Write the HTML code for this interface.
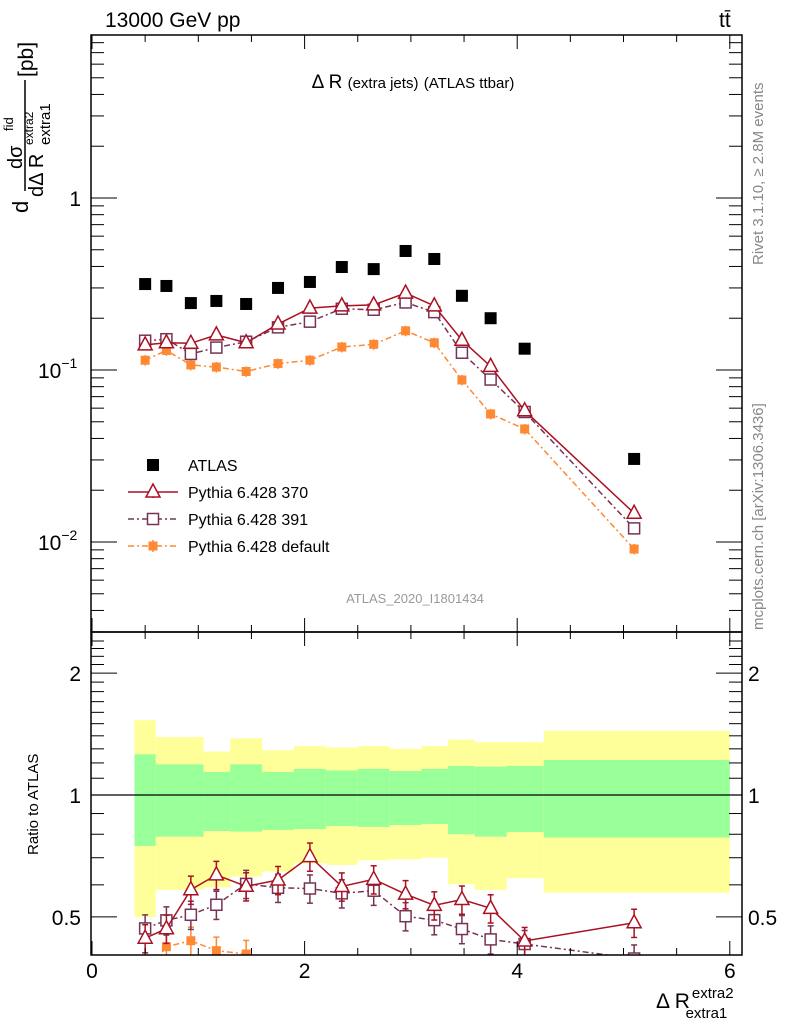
<!DOCTYPE html>
<html><head><meta charset="utf-8"><style>
body{margin:0;background:#fff;}
svg{font-family:"Liberation Sans",sans-serif;}
</style></head><body>
<svg id="c" width="786" height="1024" xmlns="http://www.w3.org/2000/svg">
<g id="bands"></g>
<g id="marks"></g>
<g id="axes" stroke="#000" fill="none"></g>
<text x="105" y="27" font-size="21">13000 GeV pp</text>
<text x="719" y="27" font-size="21">tt̄</text>
<text x="413" y="88" font-size="19" text-anchor="middle">Δ R <tspan font-size="15">(extra jets)</tspan> <tspan font-size="15">(ATLAS ttbar)</tspan></text>
<text x="415" y="603" font-size="13" fill="#999" text-anchor="middle">ATLAS_2020_I1801434</text>
<text transform="translate(763,265) rotate(-90)" font-size="15" fill="#888">Rivet 3.1.10, ≥ 2.8M events</text>
<text transform="translate(763,630) rotate(-90)" font-size="15" fill="#888">mcplots.cern.ch [arXiv:1306.3436]</text>
<g transform="translate(0,215) rotate(-90)">
<text x="2" y="28" font-size="22">d</text>
<text x="46" y="22" font-size="20">dσ</text>
<text x="84" y="13" font-size="13">fid</text>
<line x1="24" y1="25" x2="135" y2="25" stroke="#000" stroke-width="1.5"/>
<text x="18" y="43" font-size="20">dΔ R</text>
<text x="70" y="50" font-size="15">extra1</text>
<text x="70" y="33" font-size="12">extra2</text>
<text x="138" y="33" font-size="21">[pb]</text>
</g>
<text transform="translate(38,855) rotate(-90)" font-size="15">Ratio to ATLAS</text>
<text x="656" y="1008" font-size="21">Δ R<tspan font-size="15" dx="2" dy="-10">extra2</tspan><tspan font-size="15" dx="-48" dy="20">extra1</tspan></text>
<g id="legend"></g>
</svg>
<script>
const xEdges=[0.4,0.6,0.8,1.05,1.3,1.6,1.9,2.2,2.5,2.8,3.1,3.35,3.6,3.9,4.25,6.0];
const xCenters=[0.5,0.7,0.93,1.17,1.45,1.75,2.05,2.35,2.65,2.95,3.22,3.48,3.75,4.07,5.1];
const atlas=[0.316,0.308,0.245,0.252,0.242,0.30,0.325,0.397,0.386,0.492,0.442,0.27,0.20,0.133,0.0304];
const py370=[0.14,0.144,0.143,0.16,0.144,0.185,0.229,0.236,0.239,0.28,0.236,0.149,0.105,0.058,0.0147];
const py391=[0.148,0.151,0.124,0.135,0.146,0.177,0.191,0.227,0.224,0.247,0.217,0.126,0.088,0.057,0.012];
const pyDef=[0.114,0.13,0.107,0.104,0.098,0.109,0.114,0.136,0.141,0.169,0.144,0.0875,0.0555,0.0454,0.0091];
const yelHi=[1.53,1.39,1.39,1.28,1.38,1.29,1.32,1.31,1.32,1.30,1.32,1.37,1.35,1.35,1.44];
const grnHi=[1.26,1.19,1.19,1.14,1.19,1.14,1.16,1.15,1.16,1.146,1.16,1.18,1.175,1.18,1.22];
const grnLo=[0.748,0.789,0.789,0.815,0.812,0.82,0.824,0.838,0.834,0.843,0.848,0.80,0.789,0.81,0.785];
const yelLo=[0.50,0.583,0.583,0.592,0.629,0.647,0.678,0.672,0.69,0.694,0.70,0.602,0.583,0.623,0.574];
const xTicks=[0,2,4,6];
const NS="http://www.w3.org/2000/svg";
const L=91,R=742,T=35,MB=632,RB=955;
const X=v=>92+v*106.3;
const Y=v=>198-172*Math.log10(v);
const YR=v=>795-405*Math.log10(v);
function mk(tag,at,parent){const e=document.createElementNS(NS,tag);for(const k in at)e.setAttribute(k,at[k]);parent.appendChild(e);return e;}
const bands=document.getElementById('bands'),marks=document.getElementById('marks'),axes=document.getElementById('axes'),leg=document.getElementById('legend');
for(let i=0;i<yelHi.length;i++){
 const x0=X(xEdges[i]),x1=X(xEdges[i+1]);
 let r=mk('rect',{x:x0,y:YR(yelHi[i]),width:x1-x0,height:YR(yelLo[i])-YR(yelHi[i]),fill:'#ffff99'},bands);
 
 
 r=mk('rect',{x:x0,y:YR(grnHi[i]),width:x1-x0,height:YR(grnLo[i])-YR(grnHi[i]),fill:'#99ff99'},bands);
 
 
}
let ln=mk('line',{x1:L,y1:YR(1),x2:R,y2:YR(1),stroke:'#000','stroke-width':1.2},bands);


const defs=mk('defs',{},document.getElementById('c'));
const cp=mk('clipPath',{id:'rc'},defs);mk('rect',{x:L,y:MB,width:R-L,height:RB-MB},cp);
const cpm=mk('clipPath',{id:'mc'},defs);mk('rect',{x:L,y:T,width:R-L,height:MB-T},cpm);
const gm=mk('g',{'clip-path':'url(#mc)'},marks),gr=mk('g',{'clip-path':'url(#rc)'},marks);
function marker(type,cx,cy,col,g){
 let e;
 if(type==='tri') e=mk('polygon',{points:`${cx},${cy-8} ${cx-7},${cy+5} ${cx+7},${cy+5}`,fill:'#fff',stroke:col,'stroke-width':1.5},g);
 else if(type==='sq') e=mk('rect',{x:cx-5.5,y:cy-5.5,width:11,height:11,fill:'#fff',stroke:col,'stroke-width':1.5},g);
 else if(type==='fsq') e=mk('rect',{x:cx-4.5,y:cy-4.5,width:9,height:9,fill:col},g);
 else e=mk('rect',{x:cx-6,y:cy-6,width:12,height:12,fill:col},g);
 return e;
}
const series=[
 {d:pyDef,col:'#ff8833',m:'fsq',dash:'6,3,2,3',name:'Pythia 6.428 default',err:0.07},
 {d:py391,col:'#773355',m:'sq',dash:'6,3,2,3',name:'Pythia 6.428 391',err:0.05},
 {d:py370,col:'#aa1122',m:'tri',dash:'',name:'Pythia 6.428 370',err:0.05}
];
series.forEach(s=>{
 const pts=s.d.map((v,i)=>X(xCenters[i])+','+Y(v)).join(' ');
 let pl=mk('polyline',{points:pts,fill:'none',stroke:s.col,'stroke-width':1.5,'stroke-dasharray':s.dash},gm);
 
 
 const rp=s.d.map((v,i)=>X(xCenters[i])+','+YR(v/atlas[i])).join(' ');
 pl=mk('polyline',{points:rp,fill:'none',stroke:s.col,'stroke-width':1.5,'stroke-dasharray':s.dash},gr);
 
 
 s.d.forEach((v,i)=>{
  const cx=X(xCenters[i]);
  mk('line',{x1:cx,x2:cx,y1:Y(v*(1+s.err)),y2:Y(v*(1-s.err)),stroke:s.col,'stroke-width':1.5},gm);
  let p=marker(s.m,cx,Y(v),s.col,gm);
  
  
  const r=v/atlas[i],e=0.08;
  mk('line',{x1:cx,x2:cx,y1:YR(r*(1+e)),y2:YR(r*(1-e)),stroke:s.col,'stroke-width':1.5},gr);
  mk('line',{x1:cx-3,x2:cx+3,y1:YR(r*(1+e)),y2:YR(r*(1+e)),stroke:s.col,'stroke-width':1.5},gr);
  mk('line',{x1:cx-3,x2:cx+3,y1:YR(r*(1-e)),y2:YR(r*(1-e)),stroke:s.col,'stroke-width':1.5},gr);
  p=marker(s.m,cx,YR(r),s.col,gr);
  
  
 });
});
atlas.forEach((v,i)=>{
 const p=marker('bsq',X(xCenters[i]),Y(v),'#000',gm);
 
 
});
mk('rect',{x:L,y:T,width:R-L,height:MB-T,'stroke-width':1.5},axes);
mk('rect',{x:L,y:MB,width:R-L,height:RB-MB,'stroke-width':1.5},axes);
const tg=mk('g',{fill:'#000',stroke:'none','font-size':'21'},document.getElementById('c'));
for(let v=0;v<=6.01;v+=0.5){
 const x=X(v),maj=Math.abs(v-Math.round(v/2)*2)<0.01,len=maj?14:7;
 [[T,1],[MB,-1],[MB,1],[RB,-1]].forEach(([y,d])=>mk('line',{x1:x,x2:x,y1:y,y2:y+d*len},axes));
}
xTicks.forEach(v=>{const t=mk('text',{x:X(v),y:978,'text-anchor':'middle'},tg);t.textContent=v;
 
 });
for(let d=-3;d<=0;d++)for(let m=1;m<10;m++){const v=m*Math.pow(10,d),y=Y(v);if(y<T||y>MB)continue;
 const len=m===1?26:13;mk('line',{x1:L,x2:L+len,y1:y,y2:y},axes);mk('line',{x1:R,x2:R-len,y1:y,y2:y},axes);}
[[1,'1',''],[0.1,'10','−1'],[0.01,'10','−2']].forEach(([v,b,e])=>{
 const t=mk('text',{x:81,y:Y(v)+8,'text-anchor':'end'},tg);t.textContent=b;
 if(e){const s=mk('tspan',{'font-size':'14',dy:'-10'},t);s.textContent=e;t.setAttribute('x',38);t.setAttribute('text-anchor','start');}
 
 
});
for(let v=0.4;v<=2.5;v+=0.1){const y=YR(v);if(y<MB||y>RB)continue;
 const maj=[0.5,1,2].some(k=>Math.abs(k-v)<0.01),len=maj?26:13;
 mk('line',{x1:L,x2:L+len,y1:y,y2:y},axes);mk('line',{x1:R,x2:R-len,y1:y,y2:y},axes);}
[[2,'2'],[1,'1'],[0.5,'0.5']].forEach(([v,s])=>{
 let t=mk('text',{x:81,y:YR(v)+8,'text-anchor':'end'},tg);t.textContent=s;
 
 
 t=mk('text',{x:748,y:YR(v)+8},tg);t.textContent=s;
 
 
});
const legItems=[{m:'bsq',col:'#000',name:'ATLAS',dash:null},series[2],series[1],series[0]];
legItems.forEach((s,i)=>{
 const y=465+i*27;
 const g=mk('g',{},leg);
 
 
 if(s.dash!==null){mk('line',{x1:128,x2:178,y1:y,y2:y,stroke:s.col,'stroke-width':1.5,'stroke-dasharray':s.dash},g);
  mk('line',{x1:153,x2:153,y1:y-6,y2:y+6,stroke:s.col,'stroke-width':1.5},g);}
 marker(s.m||'bsq',153,y,s.col,g);
 const t=mk('text',{x:188,y:y+6,'font-size':'16'},g);t.textContent=s.name||'ATLAS';
});
</script>
</body></html>
